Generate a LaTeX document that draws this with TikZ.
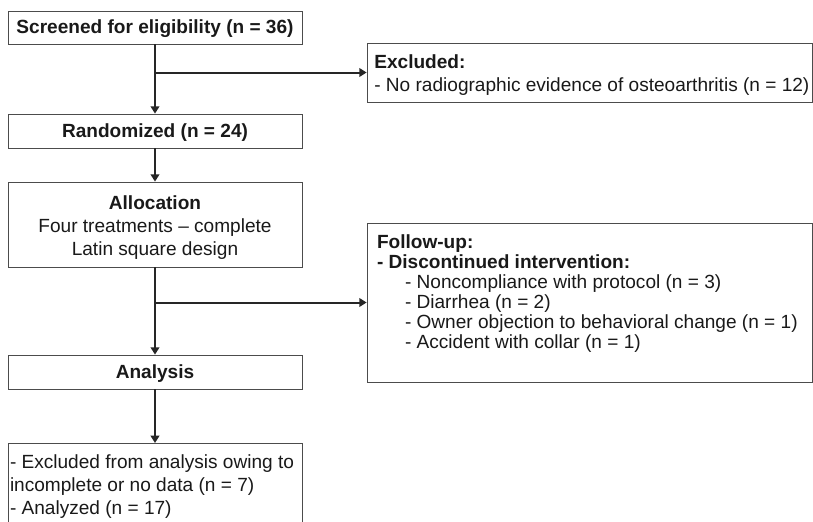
\documentclass[tikz,border=0pt]{standalone}
\usepackage{fontspec}
\setmainfont{Liberation Sans}
\usetikzlibrary{arrows.meta,positioning}

\begin{document}
\begin{tikzpicture}[
        x=0.75pt, y=-0.75pt,
        flowbox/.style={draw=black!70, line width=0.6pt, minimum width=220.5pt, inner sep=3pt, align=center, text=black!90, font=\fontsize{14.3}{17.25}\selectfont},
        onebox/.style={flowbox, minimum height=25.5pt, text height=12pt},
        sidebox/.style={flowbox, minimum width=333.75pt, inner xsep=0pt, inner ysep=9pt},
        flowarrow/.style={line width=1.5pt, black!85, -{Triangle[length=5.5pt,width=6.5pt]}}
    ]
    \useasboundingbox (0,0) rectangle (813,521);
    % Main column
    \node[onebox, minimum height=24.75pt] (scr) at (155,27.5) {\textbf{Screened for eligibility (n = 36)}};
    \node[onebox] (rand) at (155,131) {\textbf{Randomized (n = 24)}};
    \node[onebox, minimum height=63.75pt, text height=50pt] (alloc) at (155,224.5) {\textbf{Allocation}\\Four treatments – complete\\Latin square design};
    \node[onebox] (anal) at (155,372) {\textbf{Analysis}};
    \node[flowbox, anchor=north, inner xsep=0pt, inner ysep=8.25pt] (res) at (155,443) {\parbox[c][80pt][t]{220.5pt}{\raggedright\leftskip=1.5pt
        - Excluded from analysis owing to\\
        incomplete or no data (n = 7)\\
        - Analyzed (n = 17)}};
    % Side boxes
    \node[sidebox] (excl) at (589.5,72.5) {\parbox[c][26.25pt][t]{333.75pt}{\raggedright\leftskip=5.5pt
        \textbf{Excluded:}\\
        - No radiographic evidence of osteoarthritis (n = 12)}};
    \node[sidebox, font=\fontsize{14.3}{15}\selectfont] (follow) at (589.5,302.5) {\parbox[c][101.25pt][t]{333.75pt}{\raggedright\leftskip=7.5pt
        \textbf{Follow-up:}\\
        \textbf{- Discontinued intervention:}\\
        \hspace*{21pt}- Noncompliance with protocol (n = 3)\\
        \hspace*{21pt}- Diarrhea (n = 2)\\
        \hspace*{21pt}- Owner objection to behavioral change (n = 1)\\
        \hspace*{21pt}- Accident with collar (n = 1)}};
    % Connectors
    \coordinate (br1) at (scr.south |- excl.west);
    \coordinate (br2) at (alloc.south |- follow.west);
    \draw[flowarrow] (scr) -- (rand);
    \draw[flowarrow] (br1) -- (excl.west);
    \draw[flowarrow] (rand) -- (alloc);
    \draw[flowarrow] (alloc) -- (anal);
    \draw[flowarrow] (br2) -- (follow.west);
    \draw[flowarrow] (anal) -- (res);
\end{tikzpicture}
\end{document}
